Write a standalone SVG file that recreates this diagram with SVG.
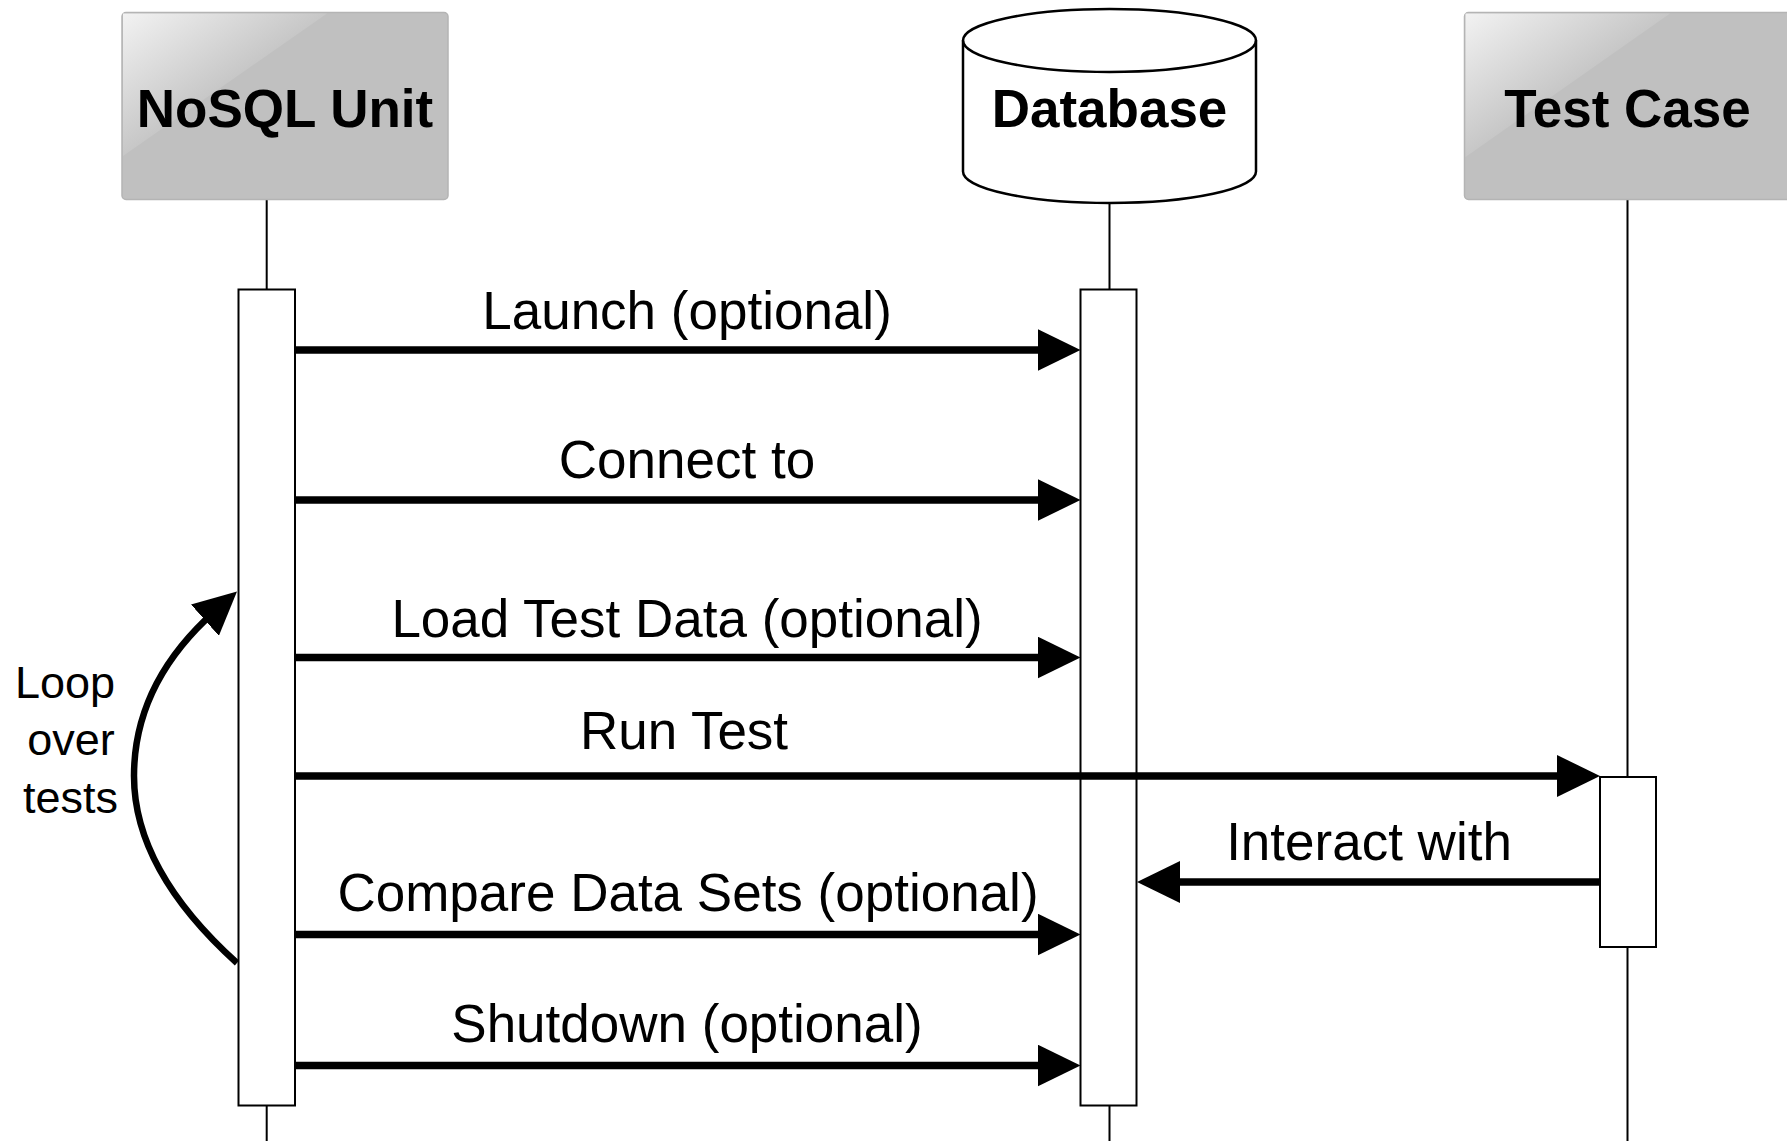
<svg xmlns="http://www.w3.org/2000/svg" width="1787" height="1141" viewBox="0 0 1787 1141">
<style>
.hdr{fill:#c0c0c0;stroke:#b4b4b4;stroke-width:1.5}
.ttl{font-family:"Liberation Sans",Arial,sans-serif;font-weight:bold;font-size:53px;fill:#000;text-anchor:middle}
.lbl{font-family:"Liberation Sans",Arial,sans-serif;font-size:53px;fill:#000;text-anchor:middle}
.loop{font-family:"Liberation Sans",Arial,sans-serif;font-size:45px;fill:#000;text-anchor:middle}
.life{stroke:#000;stroke-width:2;fill:none}
.bar{fill:#fff;stroke:#000;stroke-width:2}
.msg{stroke:#000;stroke-width:7.5;fill:none;marker-end:url(#ah)}
</style>
<defs>
<linearGradient id="gl1" gradientUnits="userSpaceOnUse" x1="123" y1="13.5" x2="189.9" y2="109.3">
<stop offset="0" stop-color="#f2f2f2"/>
<stop offset="1" stop-color="#c7c7c7"/>
</linearGradient>
<linearGradient id="gl2" gradientUnits="userSpaceOnUse" x1="1465.5" y1="13.5" x2="1532.5" y2="109.6">
<stop offset="0" stop-color="#f2f2f2"/>
<stop offset="1" stop-color="#c7c7c7"/>
</linearGradient>
<marker id="ah" markerUnits="userSpaceOnUse" markerWidth="44" markerHeight="42" refX="13" refY="21" orient="auto">
<path d="M0,0 L43,21 L0,42 Z" fill="#000"/>
</marker>
</defs>
<rect width="1787" height="1141" fill="#fff"/>

<g id="lifelines">
<line class="life" x1="266.7" y1="199.5" x2="266.7" y2="1141"/>
<line class="life" x1="1109.5" y1="203" x2="1109.5" y2="1141"/>
<line class="life" x1="1627.5" y1="199.5" x2="1627.5" y2="1141"/>
</g>

<g id="nosql-unit">
<rect class="hdr" x="122" y="12.5" width="326" height="187" rx="4"/>
<polygon fill="url(#gl1)" points="123,13.5 327,13.5 123,156"/>
<text class="ttl" x="285" y="127">NoSQL Unit</text>
<rect class="bar" x="238.5" y="289.5" width="56.5" height="816"/>
</g>

<g id="database">
<path d="M963,40.5 A146.5,31.5 0 0 1 1256,40.5 L1256,171.5 A146.5,31.5 0 0 1 963,171.5 Z" fill="#fff" stroke="#000" stroke-width="2.5"/>
<path d="M963,40.5 A146.5,31.5 0 0 0 1256,40.5" fill="none" stroke="#000" stroke-width="2.5"/>
<text class="ttl" x="1109.5" y="127">Database</text>
<rect class="bar" x="1080.5" y="289.5" width="56" height="816"/>
</g>

<g id="test-case">
<rect class="hdr" x="1464.5" y="12.5" width="326" height="187" rx="4"/>
<polygon fill="url(#gl2)" points="1465.5,13.5 1670,13.5 1465.5,157"/>
<text class="ttl" x="1627.5" y="127">Test Case</text>
<rect class="bar" x="1600" y="777" width="56" height="170"/>
</g>

<g id="connectors">
<path class="msg" d="M295,350 L1050.5,350"/>
<path class="msg" d="M295,500 L1050.5,500"/>
<path class="msg" d="M295,657.5 L1050.5,657.5"/>
<path class="msg" d="M295,776 L1570,776"/>
<path class="msg" d="M1600,882 L1167,882"/>
<path class="msg" d="M295,934.5 L1050.5,934.5"/>
<path class="msg" d="M295,1065.5 L1050.5,1065.5"/>
<path d="M237,963 Q134,870 134,776 Q134,683.3 214.6,611.5" fill="none" stroke="#000" stroke-width="6.5" marker-end="url(#ah)"/>
</g>

<g id="labels">
<text class="lbl" x="687" y="329">Launch (optional)</text>
<text class="lbl" x="687" y="478">Connect to</text>
<text class="lbl" x="687" y="636.5">Load Test Data (optional)</text>
<text class="lbl" x="684" y="749">Run Test</text>
<text class="lbl" x="1369" y="860">Interact with</text>
<text class="lbl" x="688" y="911">Compare Data Sets (optional)</text>
<text class="lbl" x="687" y="1042">Shutdown (optional)</text>
<text class="loop" x="65" y="698">Loop</text>
<text class="loop" x="71" y="755">over</text>
<text class="loop" x="70.5" y="813">tests</text>
</g>
</svg>
